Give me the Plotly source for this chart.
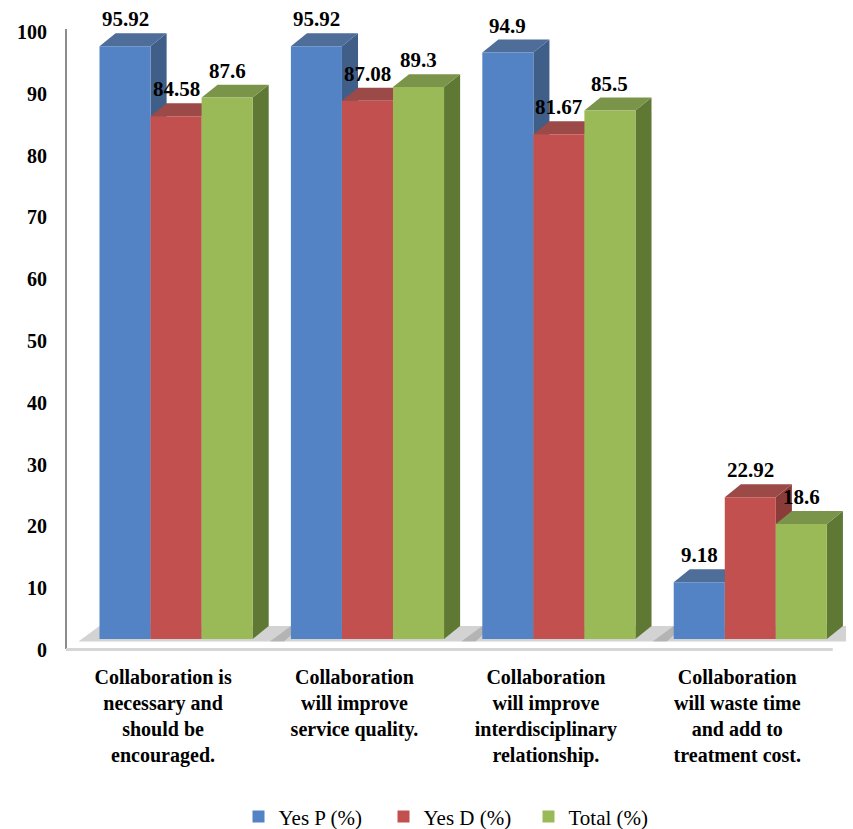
import plotly.graph_objects as go

# ---------------- data ----------------
categories = [
    "Collaboration is<br>necessary and<br>should be<br>encouraged.",
    "Collaboration<br>will improve<br>service quality.",
    "Collaboration<br>will improve<br>interdisciplinary<br>relationship.",
    "Collaboration<br>will waste time<br>and add to<br>treatment cost.",
]
series_names = ["Yes P (%)", "Yes D (%)", "Total (%)"]
yes_p = [95.92, 95.92, 94.9, 9.18]
yes_d = [84.58, 87.08, 81.67, 22.92]
total = [87.6, 89.3, 85.5, 18.6]
y_ticks = [0, 10, 20, 30, 40, 50, 60, 70, 80, 90, 100]

# ---------------- styles ----------------
front_colors = ["#5383c4", "#c2504e", "#9aba58"]
top_colors = ["#4e6d99", "#9c4a48", "#7a9449"]
side_colors = ["#3f5e88", "#8a3c3a", "#5f7935"]
FONT = "Liberation Serif, Times New Roman, DejaVu Serif, serif"

series = [yes_p, yes_d, total]
xpos = list(range(len(categories)))
bargap = 0.2
w = (1 - bargap) / len(series)      # bar width in axis units
dx = 0.084                           # 3D depth offset (x, axis units)
dy = 2.1                             # 3D depth offset (y, axis units)

fig = go.Figure()
for k, (name, vals) in enumerate(zip(series_names, series)):
    fig.add_trace(go.Bar(
        x=xpos, y=vals, name=name,
        marker=dict(color=front_colors[k], line=dict(width=0)),
        hoverinfo="skip",
    ))

shapes = []
# floor shadow per group
for i in xpos:
    gx0 = i - 0.4
    gx1 = i + 0.4 + dx
    shapes.append(dict(
        type="path", xref="x", yref="y", layer="below",
        path=f"M{gx0-0.11},{-0.4} L{gx1+0.08},{-0.4} L{gx1+0.17},{dy} L{gx0},{dy} Z",
        fillcolor="rgba(110,110,110,0.3)", line=dict(width=0),
    ))
# 3D faces (side + top) drawn behind the front faces
for i in xpos:
    for k, vals in enumerate(series):
        v = vals[i]
        x0 = i - 0.4 + k * w
        x1 = x0 + w
        shapes.append(dict(
            type="path", xref="x", yref="y", layer="below",
            path=f"M{x1},0 L{x1+dx},{dy} L{x1+dx},{v+dy} L{x1},{v} Z",
            fillcolor=side_colors[k], line=dict(width=0),
        ))
        shapes.append(dict(
            type="path", xref="x", yref="y", layer="below",
            path=f"M{x0},{v} L{x1},{v} L{x1+dx},{v+dy} L{x0+dx},{v+dy} Z",
            fillcolor=top_colors[k], line=dict(width=0),
        ))
# axis lines
shapes.append(dict(type="line", xref="paper", yref="y", x0=0, x1=0, y0=-1.6, y1=98.7,
                   line=dict(color="#8c8c8c", width=2)))
shapes.append(dict(type="line", xref="paper", yref="y", x0=0, x1=0.983, y0=-1.7, y1=-1.7,
                   line=dict(color="#d6d6d6", width=3)))

annotations = []
for i in xpos:
    for k, vals in enumerate(series):
        v = vals[i]
        xc = i - 0.4 + k * w + w / 2
        annotations.append(dict(
            x=xc, y=v + dy, xref="x", yref="y", text=f"{v:g}",
            showarrow=False, yanchor="bottom", xanchor="center",
            font=dict(family=FONT, size=21, color="black", weight="bold"),
        ))

fig.update_layout(
    width=853, height=829,
    margin=dict(l=66, r=7, t=20, b=174, autoexpand=False),
    paper_bgcolor="white", plot_bgcolor="white",
    barmode="group", bargap=bargap, bargroupgap=0,
    shapes=shapes, annotations=annotations,
    showlegend=True,
    legend=dict(orientation="h", x=0.5, xanchor="center", y=-0.255, yanchor="middle",
                entrywidth=100, itemwidth=30,
                font=dict(family=FONT, size=21, color="black")),
    xaxis=dict(range=[-0.575, 3.5], tickvals=xpos, ticktext=categories,
               showgrid=False, zeroline=False, showline=False, ticks="",
               tickfont=dict(family=FONT, size=20, color="black", weight="bold"),
               ticklabelshift=-13, ticklabelstandoff=8),
    yaxis=dict(range=[-2.589, 100.16], tickvals=y_ticks,
               showgrid=False, zeroline=False, showline=False, ticks="",
               tickfont=dict(family=FONT, size=20, color="black", weight="bold"),
               ticklabelshift=11, ticklabelstandoff=18),
)

fig.write_html("out.html")
